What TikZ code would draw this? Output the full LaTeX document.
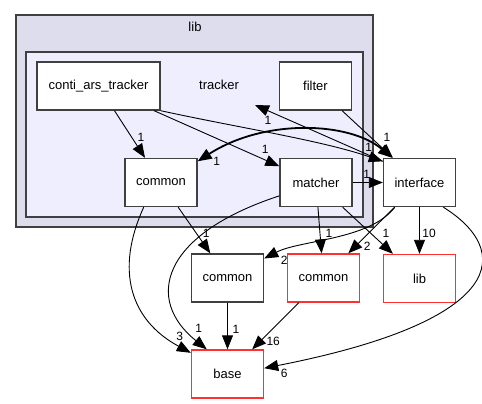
\documentclass[tikz,border=0pt]{standalone}
\usepackage{fontspec}
\setmainfont{Liberation Sans}
\usetikzlibrary{arrows.meta, positioning}
\definecolor{outerFill}{HTML}{DDDDEE}
\definecolor{innerFill}{HTML}{EEEEFF}
\definecolor{borderGray}{HTML}{404040}
\definecolor{dirRed}{HTML}{FF3030}
\tikzset{
    styleArrow/.style={-{Triangle[length=14pt, width=11pt]}, line width=0.9pt}, % filled heads like the dot output
    styleBoth/.style={{Triangle[length=14pt, width=11pt]}-{Triangle[length=14pt, width=11pt]}, line width=1.8pt}, % heads on both ends
    every node/.style={font=\fontsize{13}{15}\selectfont}, % sets the text size for all nodes
    node distance=96pt, % vertical step between the rows
}

\begin{document}
\begin{tikzpicture}[
                                x=1pt, y=-1pt,
                                styleDir/.style={draw=borderGray, line width=1.4pt, fill=white, minimum width=72pt, minimum height=48pt, inner sep=0pt},
                                styleRed/.style={styleDir, draw=dirRed},
                                styleBox/.style={draw=borderGray, line width=1.4pt},
                                styleNum/.style={font=\fontsize{12}{12}\selectfont, inner sep=0pt, pos=1},
                            ]
                            \useasboundingbox (0,0) rectangle (482,404);
                            \draw[styleBox, fill=outerFill] (16,15) rectangle (373,227);
                            \node (libTitle) at (195,27) {lib};
                            \draw[styleBox, fill=innerFill] (26,52) rectangle (363,217);
                            \node (trackerTitle) at (219,85) {tracker};
                            \coordinate (trackTip) at (255,105);
                            \node[styleDir, minimum width=123pt] (conti) at (98.5,86) {conti\_ars\_tracker};
                            \node[styleDir] (filter) at (315.5,86) {filter};
                            \node[styleDir] (commonT) at (161,182.5) {common};
                            \node[styleDir] (matcher) at (316,182.5) {matcher};
                            \node[styleDir] (iface) at (419.5,182.5) {interface};
                            \node[styleDir] (commonB) at (227.5,278) {common};
                            \node[styleRed] (commonR) at (323.5,278) {common};
                            \node[styleRed, below of=iface] (libR) {lib};
                            \node[styleRed, below of=commonB] (base) {base};
                            % straight connectors
                            \draw[styleArrow] (conti) -- (commonT) node[styleNum, xshift=-4pt, yshift=20pt] {1};
                            \draw[styleArrow] (conti) -- (matcher) node[styleNum, xshift=-14pt, yshift=16.5pt] {1};
                            \draw[styleArrow] (filter) -- (iface) node[styleNum, xshift=-6pt, yshift=20pt] {1};
                            \draw[styleArrow] (iface.150) -- (trackTip) node[styleNum, xshift=13pt, yshift=-15pt] {1};
                            \draw[styleArrow] (matcher) -- (iface) node[styleNum, xshift=-16pt, yshift=8.5pt] {1};
                            \draw[styleArrow] (commonT) -- (commonB) node[styleNum, xshift=-4pt, yshift=20pt] {1};
                            \draw[styleArrow] (matcher) -- (commonR) node[styleNum, xshift=7.5pt, yshift=20pt] {1};
                            \draw[styleArrow] (matcher) -- (libR) node[styleNum, xshift=-7pt, yshift=20pt] {1};
                            \draw[styleArrow] (iface) -- (commonR) node[styleNum, xshift=19pt, yshift=7pt] {2};
                            \draw[styleArrow] (iface) -- (libR) node[styleNum, xshift=9.5pt, yshift=20pt] {10};
                            \draw[styleArrow] (commonB) -- (base) node[styleNum, xshift=8.5pt, yshift=20pt] {1};
                            \draw[styleArrow] (commonR) -- (base) node[styleNum, xshift=21pt, yshift=8pt] {16};
                            % bent connectors
                            \draw[styleArrow] (conti.south east) .. controls (240,128) and (320,140) .. (iface.150) node[styleNum, xshift=-14pt, yshift=13.5pt] {1};
                            \draw[styleBoth] (commonT.30) .. controls (265,118) and (350,122) .. (iface.138) node[styleNum, pos=0, xshift=19pt] {1};
                            \draw[styleArrow] (commonT.235) .. controls (115,270) and (130,320) .. (base.150) node[styleNum, xshift=-11pt, yshift=16pt] {3};
                            \draw[styleArrow] (matcher.200) .. controls (160,235) and (145,300) .. (base.130) node[styleNum, xshift=-8pt, yshift=21pt] {1};
                            \draw[styleArrow] (iface.225) .. controls (370,240) and (300,240) .. (commonB.28) node[styleNum, xshift=20pt, yshift=-2pt] {2};
                            \draw[styleArrow] (iface.314) .. controls (512,250) and (510,320) .. (base.9) node[styleNum, xshift=20pt, yshift=-5pt] {6};
                        \end{tikzpicture}
\end{document}
